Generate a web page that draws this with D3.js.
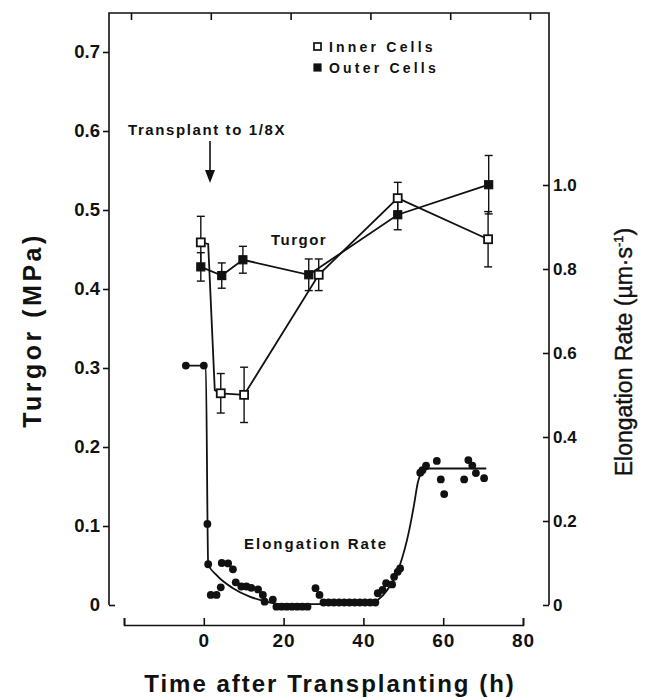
<!DOCTYPE html>
<html>
<head>
<meta charset="utf-8">
<script src="https://cdn.jsdelivr.net/npm/d3@7"></script>
<style>
  body { margin: 0; background: #fff; }
  text { font-family: "Liberation Sans", Arial, Helvetica, sans-serif; font-weight: bold; fill: #111; }
</style>
</head>
<body>
<svg id="chart" width="647" height="700"></svg>
<script>
// ---- data ----
var hourTicks = [-20, 0, 20, 40, 60, 80];
var turgorTicks = [0, 0.1, 0.2, 0.3, 0.4, 0.5, 0.6, 0.7];
var rateTicks = [0, 0.2, 0.4, 0.6, 0.8, 1.0];

// turgor, inner cells (open squares)
var innerTime = [-0.75, 4.25, 10.1, 28.8, 48.6, 71.25];
var innerTurgor = [0.459, 0.268, 0.266, 0.418, 0.515, 0.463];
var innerErr = [0.033, 0.025, 0.035, 0.02, 0.02, 0.035];
// the drawn trace of the inner cells has a knee just after transplanting
var innerTraceTime = [-0.75, 1.1, 2.75, 4.25, 10.1, 28.8, 48.6, 71.25];
var innerTraceTurgor = [0.459, 0.457, 0.272, 0.268, 0.266, 0.418, 0.515, 0.463];

// turgor, outer cells (filled squares)
var outerTime = [-0.75, 4.5, 9.8, 26.3, 48.6, 71.4];
var outerTurgor = [0.428, 0.417, 0.437, 0.418, 0.494, 0.532];
var outerErr = [0.018, 0.016, 0.017, 0.02, 0.019, 0.037];

// elongation rate (um/s), dots
var rateTime = [-4.5, 0, 0.9, 1.1, 1.75, 3.2, 4.25, 4.5, 6.1, 7.3, 8, 9.4, 10.7, 11.9, 13.6, 14.8, 15.25, 17.3,
  18.2, 19.5, 20.8, 22.1, 23.4, 24.7, 26.0, 28, 29,
  30, 31.3, 32.6, 33.9, 35.2, 36.5, 37.8, 39.1, 40.4, 41.7, 43,
  43.6, 44.8, 45.7, 47.2, 47.7, 48.6, 49.2,
  54.25, 54.8, 55.7, 58.4, 59.4, 60.25, 65.25, 66.3, 67.3, 68.2, 70.25];
var rateValue = [0.57, 0.57, 0.193, 0.097, 0.024, 0.024, 0.042, 0.10, 0.099, 0.085, 0.054, 0.044, 0.044, 0.041, 0.037, 0.024, 0.008, 0.013,
  -0.004, -0.004, -0.004, -0.004, -0.004, -0.004, -0.004, 0.04, 0.024,
  0.006, 0.006, 0.006, 0.006, 0.006, 0.006, 0.006, 0.006, 0.006, 0.006, 0.006,
  0.028, 0.036, 0.052, 0.049, 0.067, 0.079, 0.087,
  0.315, 0.321, 0.332, 0.343, 0.299, 0.264, 0.299, 0.345, 0.332, 0.314, 0.302];

// hand-fitted curve through the elongation data
var fitTime = [-4.5, 0, 0.5, 1.1, 3.2, 7.3, 11.5, 15.7, 19, 30, 42, 43.6, 46, 49, 51.5, 52.75, 53.6, 54.8, 56.5, 70.8];
var fitRate = [0.57, 0.57, 0.57, 0.097, 0.071, 0.04, 0.02, 0.008, 0.002, 0.002, 0.004, 0.012, 0.036, 0.091, 0.179, 0.242, 0.29, 0.317, 0.325, 0.325];

// ---- layout ----
var svg = d3.select("#chart");
var ink = "#111";
var frameLeft = 109, frameRight = 549, frameTop = 13, frameBottom = 605;

var x = d3.scaleLinear().domain([-20, 80]).range([124, 523]);
var yT = d3.scaleLinear().domain([0, 0.7]).range([605, 52]);
var yR = d3.scaleLinear().domain([0, 1]).range([605, 185]);

var fmt = function(d) { return d === 0 ? "0" : d3.format(".1f")(d); };

//frame lines
svg.append("path")
  .attr("d", "M" + frameLeft + "," + frameBottom + "V" + frameTop + "H" + frameRight + "V" + frameBottom)
  .attr("fill", "none").attr("stroke", ink).attr("stroke-width", 1.6);

//left axis (turgor)
var gl = svg.append("g")
  .attr("transform", "translate(" + frameLeft + ",0)")
  .call(d3.axisLeft(yT).tickValues(turgorTicks).tickSize(6).tickSizeOuter(0).tickPadding(3).tickFormat(fmt));
gl.select(".domain").remove();
gl.selectAll(".tick").filter(function(d) { return d === 0; }).select("line").attr("x2", 6);

//right axis (elongation rate), ticks pointing inwards
var gr = svg.append("g")
  .attr("transform", "translate(" + frameRight + ",0)")
  .call(d3.axisRight(yR).tickValues(rateTicks).tickSize(-6).tickSizeOuter(0).tickPadding(4).tickFormat(fmt));
gr.select(".domain").remove();

//top ticks (shifted a little from the time axis in the original figure)
var gt = svg.append("g")
  .attr("transform", "translate(7," + frameTop + ")")
  .call(d3.axisBottom(x).tickValues(hourTicks).tickSize(7).tickFormat(""));
gt.select(".domain").remove();

//time axis
var gb = svg.append("g")
  .attr("transform", "translate(0,625)")
  .call(d3.axisBottom(x).tickValues(hourTicks).tickSize(-7).tickSizeOuter(-7).tickPadding(9)
    .tickFormat(function(d) { return d === -20 ? "" : d; }));

svg.selectAll(".tick line, .domain").attr("stroke", ink).attr("stroke-width", 1.6);
svg.selectAll(".tick text").style("font-size", "18.5px").attr("fill", ink);
gr.selectAll(".tick text").style("font-size", "17px");
gb.selectAll(".tick text").style("font-size", "19px").style("letter-spacing", "1px");

//axis titles
svg.append("text")
  .attr("x", 330).attr("y", 692).attr("text-anchor", "middle")
  .style("font-size", "24px").style("letter-spacing", "2px")
  .text("Time after Transplanting (h)");

svg.append("text")
  .attr("transform", "translate(41,330) rotate(-90)").attr("text-anchor", "middle")
  .style("font-size", "25px").style("letter-spacing", "3.5px")
  .text("Turgor (MPa)");

var rt = svg.append("text")
  .attr("transform", "translate(632,352) rotate(-90)").attr("text-anchor", "middle")
  .style("font-size", "23px").style("font-weight", "normal").style("stroke", ink).style("stroke-width", 0.4);
rt.append("tspan").text("Elongation Rate (\u00b5m\u00b7s");
rt.append("tspan").attr("dy", -9).style("font-size", "13px").text("-1");
rt.append("tspan").attr("dy", 9).text(")");

// ---- elongation rate ----
var fit = d3.zip(fitTime, fitRate);
svg.append("path")
  .attr("d", d3.line().x(function(d) { return x(d[0]); }).y(function(d) { return yR(d[1]); }).curve(d3.curveMonotoneX)(fit))
  .attr("fill", "none").attr("stroke", ink).attr("stroke-width", 1.8);

svg.append("g").selectAll("circle")
  .data(d3.zip(rateTime, rateValue))
  .join("circle")
  .attr("cx", function(d) { return x(d[0]); })
  .attr("cy", function(d) { return yR(d[1]); })
  .attr("r", 3.9)
  .attr("fill", ink);

// ---- turgor ----
var tLine = d3.line().x(function(d) { return x(d[0]); }).y(function(d) { return yT(d[1]); });

svg.append("path").attr("d", tLine(d3.zip(outerTime, outerTurgor)))
  .attr("fill", "none").attr("stroke", ink).attr("stroke-width", 1.8);
svg.append("path").attr("d", tLine(d3.zip(innerTraceTime, innerTraceTurgor)))
  .attr("fill", "none").attr("stroke", ink).attr("stroke-width", 1.8);

function errorBars(times, vals, errs) {
  var g = svg.append("g").attr("stroke", ink).attr("stroke-width", 1.4);
  d3.zip(times, vals, errs).forEach(function(d) {
    var cx = x(d[0]);
    g.append("line").attr("x1", cx).attr("x2", cx).attr("y1", yT(d[1] - d[2])).attr("y2", yT(d[1] + d[2]));
    [d[1] - d[2], d[1] + d[2]].forEach(function(v) {
      g.append("line").attr("x1", cx - 4).attr("x2", cx + 4).attr("y1", yT(v)).attr("y2", yT(v));
    });
  });
}
errorBars(outerTime, outerTurgor, outerErr);
errorBars(innerTime, innerTurgor, innerErr);

var sq = 8;
svg.append("g").selectAll("rect")
  .data(d3.zip(outerTime, outerTurgor))
  .join("rect")
  .attr("x", function(d) { return x(d[0]) - sq / 2; })
  .attr("y", function(d) { return yT(d[1]) - sq / 2; })
  .attr("width", sq).attr("height", sq)
  .attr("fill", ink).attr("stroke", ink).attr("stroke-width", 1.2);

svg.append("g").selectAll("rect")
  .data(d3.zip(innerTime, innerTurgor))
  .join("rect")
  .attr("x", function(d) { return x(d[0]) - sq / 2; })
  .attr("y", function(d) { return yT(d[1]) - sq / 2; })
  .attr("width", sq).attr("height", sq)
  .attr("fill", "#fff").attr("stroke", ink).attr("stroke-width", 1.8);

// ---- legend ----
svg.append("rect").attr("x", 314).attr("y", 43).attr("width", 7).attr("height", 7)
  .attr("fill", "#fff").attr("stroke", ink).attr("stroke-width", 1.7);
svg.append("rect").attr("x", 314).attr("y", 64).attr("width", 7).attr("height", 7)
  .attr("fill", ink).attr("stroke", ink).attr("stroke-width", 1.2);
svg.append("text").attr("x", 329).attr("y", 52).style("font-size", "14px").style("letter-spacing", "3.2px").text("Inner Cells");
svg.append("text").attr("x", 329).attr("y", 73).style("font-size", "14px").style("letter-spacing", "3.2px").text("Outer Cells");

// ---- annotations ----
svg.append("text").attr("x", 128).attr("y", 135).style("font-size", "15px").style("letter-spacing", "1.6px")
  .text("Transplant to 1/8X");
svg.append("line").attr("x1", 210).attr("x2", 210).attr("y1", 141).attr("y2", 171)
  .attr("stroke", ink).attr("stroke-width", 1.6);
svg.append("path").attr("d", "M205,170L215,170L210,183Z").attr("fill", ink);

svg.append("text").attr("x", 271).attr("y", 245).style("font-size", "15px").style("letter-spacing", "1.5px").text("Turgor");
svg.append("text").attr("x", 244).attr("y", 549).style("font-size", "15px").style("letter-spacing", "2px").text("Elongation Rate");
</script>
</body>
</html>
